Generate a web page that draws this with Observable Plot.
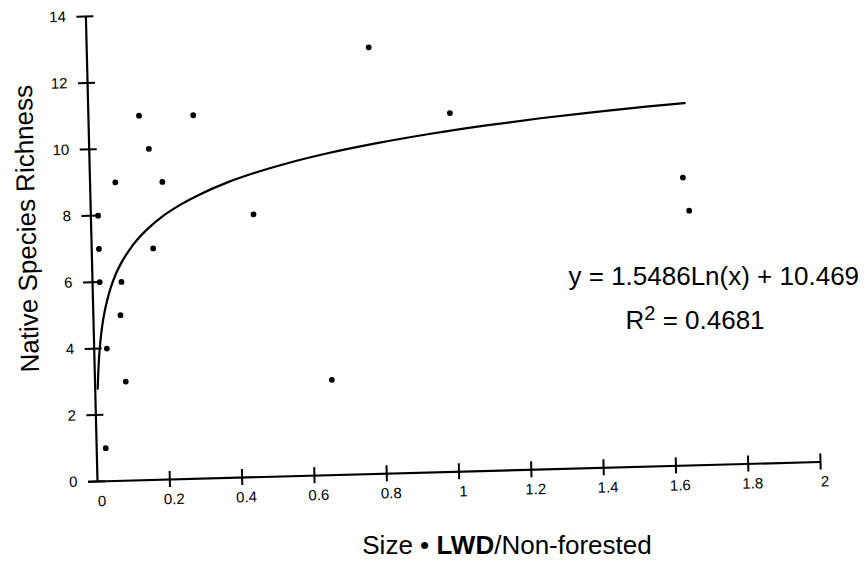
<!DOCTYPE html>
<html>
<head>
<meta charset="utf-8">
<script src="https://cdn.jsdelivr.net/npm/d3@7"></script>
<script src="https://cdn.jsdelivr.net/npm/@observablehq/plot@0.6"></script>
<style>
  html, body { margin: 0; padding: 0; background: #fff; }
  #chart { width: 865px; height: 563px; }
</style>
</head>
<body>
<div id="chart"></div>
<script>
// ---- data ----
const sizeRatio = [0.14, 0.29, 0.165, 0.07, 0.2, 0.02, 0.45, 0.02, 0.17, 0.02, 0.08, 0.075, 0.035, 0.085, 0.025, 0.78, 1.0, 0.655, 1.64, 1.655];
const richness  = [11,   11,   10,    9,    9,   8,    8,    7,    7,    6,    6,    5,     4,     3,     1,     13,   11,  3,     9,    8];

// trendline as drawn in the figure (logarithmic fit)
const trendX = [0.007, 0.009, 0.012, 0.016, 0.02, 0.025, 0.03, 0.04, 0.05, 0.065, 0.08, 0.1, 0.13, 0.16, 0.2, 0.25, 0.3, 0.38, 0.45, 0.55, 0.65, 0.8, 0.95, 1.1, 1.25, 1.4, 1.55, 1.65];
const trendY = [2.79, 3.17, 3.62, 4.07, 4.41, 4.76, 5.04, 5.48, 5.83, 6.24, 6.56, 6.90, 7.31, 7.63, 7.98, 8.32, 8.60, 8.97, 9.23, 9.54, 9.80, 10.12, 10.39, 10.62, 10.82, 10.99, 11.15, 11.24];

const xTicks = [0.2, 0.4, 0.6, 0.8, 1, 1.2, 1.4, 1.6, 1.8, 2];
const xTickLabels = ["0", "0.2", "0.4", "0.6", "0.8", "1", "1.2", "1.4", "1.6", "1.8", "2"];
const yTicks = [0, 2, 4, 6, 8, 10, 12, 14];

const xTitle = "Size • LWD/Non-forested";
const yTitle = "Native Species Richness";
const equationText = "y = 1.5486Ln(x) + 10.469";
const r2Text = "R2 = 0.4681";

// ---- chart ----
const font = "'Liberation Sans', Arial, Helvetica, sans-serif";
const points = sizeRatio.map((x, i) => ({x, y: richness[i]}));
const trend = trendX.map((x, i) => ({x, y: trendY[i]}));
const xLabelTicks = [0, ...xTicks];

const ML = 97, MB = 82, MT = 16, MR = 45, W = 865, H = 563;

const plot = Plot.plot({
  width: W, height: H,
  marginLeft: ML, marginRight: MR, marginTop: MT, marginBottom: MB,
  x: {domain: [0, 2], axis: null},
  y: {domain: [0, 14], axis: null},
  style: {fontFamily: font, color: "black", background: "white", overflow: "visible"},
  marks: [
    // axis lines
    Plot.ruleY([0], {x1: 0, x2: 2, insetLeft: -9, stroke: "black", strokeWidth: 2.2}),
    Plot.ruleX([0], {y1: 0, y2: 14, stroke: "black", strokeWidth: 2.2}),
    // crossing ticks
    Plot.ruleX(xTicks, {x: d => d, y1: 0, y2: 0, insetTop: -8, insetBottom: -8, stroke: "black", strokeWidth: 2}),
    Plot.ruleY(yTicks, {y: d => d, x1: 0, x2: 0, insetLeft: -9, insetRight: -8, stroke: "black", strokeWidth: 2}),
    // tick labels
    Plot.axisX({ticks: xLabelTicks, tickSize: 0, tickPadding: 14, fontSize: 15, label: null, dx: 4,
      tickFormat: (d) => xTickLabels[xLabelTicks.indexOf(d)]}),
    Plot.axisY({ticks: yTicks, tickSize: 0, tickPadding: 20, fontSize: 15, label: null}),
    // y title
    Plot.text([yTitle], {frameAnchor: "left", rotate: -90, textAnchor: "middle", dx: -64, dy: -22, fontSize: 26}),
    // data
    Plot.line(trend, {x: "x", y: "y", curve: "monotone-x", stroke: "black", strokeWidth: 2.2}),
    Plot.dot(points, {x: "x", y: "y", r: 2.9, fill: "black", stroke: "none"}),
    // annotations
    Plot.text([equationText], {frameAnchor: "top-left", dx: 471, dy: 260, textAnchor: "start", lineAnchor: "middle", fontSize: 26}),
    Plot.text([r2Text], {frameAnchor: "top-left", dx: 528, dy: 304, textAnchor: "start", lineAnchor: "middle", fontSize: 26}),
    Plot.text([xTitle], {frameAnchor: "bottom", dx: 48, dy: 64, textAnchor: "middle", lineAnchor: "middle", fontSize: 26})
  ]
});

document.getElementById("chart").appendChild(plot);

// ---- rich text: superscript and bold segments ----
const ns = "http://www.w3.org/2000/svg";
const annotationTexts = new Set([equationText, r2Text, xTitle]);
const annG = [];
plot.querySelectorAll("g").forEach(g => {
  const t = g.querySelector("text");
  if (g.getAttribute("aria-label") === "text" && t && annotationTexts.has(t.textContent)) annG.push(g);
});
plot.querySelectorAll("text").forEach(t => {
  if (t.textContent === r2Text) {
    t.textContent = "";
    const a = document.createElementNS(ns, "tspan"); a.textContent = "R";
    const b = document.createElementNS(ns, "tspan"); b.textContent = "2"; b.setAttribute("dy", "-9"); b.setAttribute("font-size", "20");
    const c = document.createElementNS(ns, "tspan"); c.textContent = " = 0.4681"; c.setAttribute("dy", "9");
    t.append(a, b, c);
  } else if (t.textContent === xTitle) {
    t.textContent = "";
    const a = document.createElementNS(ns, "tspan"); a.textContent = "Size • ";
    const b = document.createElementNS(ns, "tspan"); b.textContent = "LWD"; b.setAttribute("font-weight", "bold");
    const c = document.createElementNS(ns, "tspan"); c.textContent = "/Non-forested";
    t.append(a, b, c);
  }
});

// ---- scanned-page skew: axes and data are slightly sheared in the source ----
function shear(groups, b, c) {
  if (!groups.length) return;
  const ox = ML, oy = H - MB;
  const g = document.createElementNS(ns, "g");
  g.setAttribute("transform", `matrix(1,${b},${c},1,${-c * oy},${-b * ox})`);
  groups[0].parentNode.insertBefore(g, groups[0]);
  groups.forEach(n => g.appendChild(n));
}
const kids = Array.from(plot.children).filter(n => n.tagName === "g");
const dataG = kids.filter(n => ["line", "dot"].includes(n.getAttribute("aria-label")));
const axisG = kids.filter(n => !dataG.includes(n) && !annG.includes(n));
shear(axisG, -0.027, 0.025);
shear(dataG, -0.0085, 0.025);
</script>
</body>
</html>
